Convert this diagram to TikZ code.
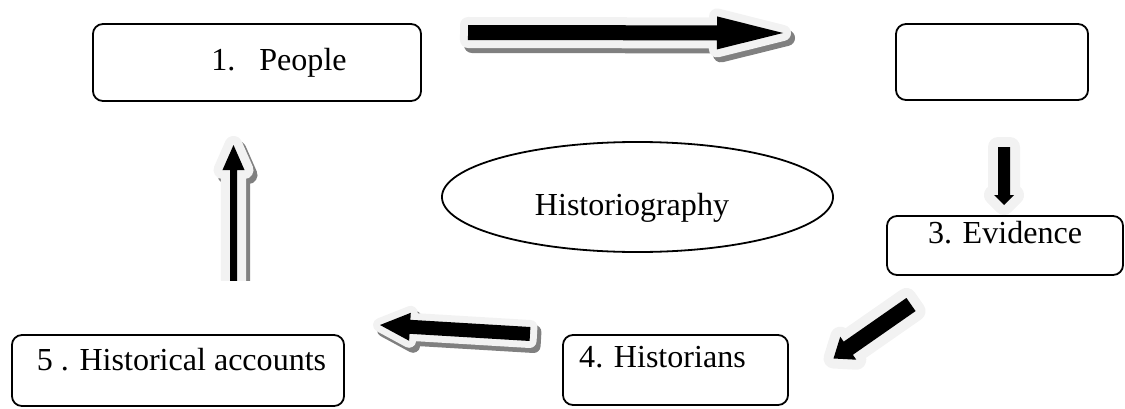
\documentclass[tikz,border=0pt]{standalone}
\usepackage{fontspec}
\setmainfont{Liberation Serif}
\usepackage{tikz}
\usetikzlibrary{arrows,calc,positioning,shapes.geometric}
\definecolor{glow}{HTML}{F2F2F2}
\definecolor{shade}{HTML}{808080}
\tikzset{
	box_n/.style = {align=center, inner sep=0pt, font=\fontsize{22.8}{27}\selectfont},
	box_r/.style = {box_n, rectangle, rounded corners=0.25cm, draw=black,
		line width=0.045cm},% boite arrondie
	box_e/.style = {box_n, ellipse, draw=black, line width=0.045cm},% ellipse
	arr_k/.style = {fill=black, preaction={draw=glow, line width=#1,
		line join=round}},% fleche noire, bord clair
	arr_s/.style = {preaction={fill=shade, draw=shade, line width=#1, line join=round,
		transform canvas={shift={(0.1cm,-0.125cm)}}}}% ombre
}
% #1 style, #2 depart, #3 pointe, #4 demi corps, #5 demi tete, #6 longueur tete
\newcommand{\fatarrow}[6][]{
	\coordinate (fa_b) at ($(#3)!#6!(#2)$);
	\path[#1] ($(#2)!#4!-90:(#3)$) -- ($(fa_b)!#4!-90:(#3)$) -- ($(fa_b)!#5!-90:(#3)$)
	-- (#3) -- ($(fa_b)!#5!90:(#3)$) -- ($(fa_b)!#4!90:(#3)$) -- ($(#2)!#4!90:(#3)$) -- cycle;
}
\begin{document}
\begin{tikzpicture}[x=0.025cm,y=-0.025cm]
\useasboundingbox (0,0) rectangle (1125,408);
\node [box_r, minimum width=8.2cm, minimum height=1.925cm] (people) at (257,62.5)
	{\hspace*{1.1cm}1.\hspace{0.6cm}People};
\node [box_r, minimum width=4.8cm, minimum height=1.9cm] (blank) at (992,62) {};
\node [box_r, minimum width=5.9cm, minimum height=1.475cm, text depth=0.665cm]
	(evidence) at (1005,245.5) {3. Evidence};
\node [box_r, minimum width=5.625cm, minimum height=1.75cm, text depth=0.65cm]
	(historians) at (675.5,370) {4. Historians\hspace*{0.65cm}};
\node [box_r, minimum width=8.3cm, minimum height=1.775cm, text depth=0.575cm]
	(accounts) at (178,370.5) {\hspace*{0.175cm}5 . Historical accounts};
\node [box_e, minimum width=9.775cm, minimum height=2.75cm, text height=1.075cm,
	text depth=0.175cm] (hist) at (637.5,197) {Historiography\hspace*{0.275cm}};
% fleches
\coordinate (a1s) at (468,32.5); \coordinate (a1e) at (783,33);
\coordinate (a2s) at (1004,147); \coordinate (a2e) at (1004,205);
\coordinate (a3s) at (911,304.5); \coordinate (a3e) at (833.5,358.5);
\coordinate (a4s) at (530,334); \coordinate (a4e) at (380,325);
\coordinate (a5s) at (233.5,295); \coordinate (a5e) at (233.5,145);
\fatarrow[arr_s=0.4cm, arr_k=0.4cm]{a1s}{a1e}{0.1875cm}{0.4125cm}{1.65cm}
\fatarrow[arr_k=0.5cm]{a2s}{a2e}{0.15cm}{0.25cm}{0.25cm}
\fatarrow[arr_k=0.5cm]{a3s}{a3e}{0.2cm}{0.35cm}{0.45cm}
\fatarrow[arr_s=0.35cm, arr_k=0.35cm]{a4s}{a4e}{0.175cm}{0.35cm}{0.75cm}
\begin{scope}
\clip (0,0) rectangle (1125,280);
\fatarrow[arr_s=0.45cm, arr_k=0.45cm]{a5s}{a5e}{0.0875cm}{0.275cm}{0.625cm}
\end{scope}
\end{tikzpicture}
\end{document}
